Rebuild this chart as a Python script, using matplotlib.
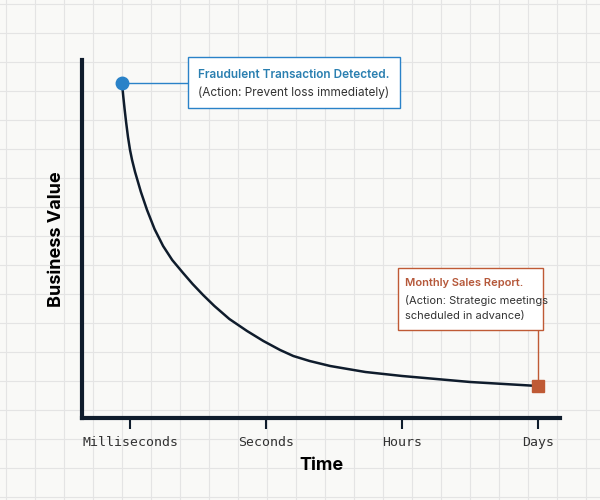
import matplotlib
matplotlib.use("Agg")
import matplotlib.pyplot as plt
from matplotlib.lines import Line2D
from matplotlib.patches import Rectangle

tick_pos = [0, 1, 2, 3]
tick_labels = ["Milliseconds", "Seconds", "Hours", "Days"]
curve_x = [-0.059, -0.05, -0.04, -0.029, -0.015, 0.0, 0.015, 0.037, 0.08, 0.125, 0.18, 0.243, 0.31, 0.39, 0.46, 0.537,
           0.62, 0.73, 0.86, 0.98, 1.103, 1.2, 1.32, 1.471, 1.6, 1.73, 2.0, 2.25, 2.5, 2.75, 3.0]
curve_y = [335, 322, 309, 296, 281, 268, 258, 246, 226, 208, 189, 172, 158, 145, 134, 123,
           112, 99, 87, 77, 68, 62, 57, 52, 49, 46, 42, 39, 36, 34, 32]

fig = plt.figure(figsize=(6, 5), dpi=100, facecolor="#f9f9f7")
for px in range(6, 601, 29):
    fig.add_artist(Line2D([px/600, px/600], [0, 1], color="#e4e4e4", lw=0.8, zorder=0))
for py in range(4, 501, 29):
    fig.add_artist(Line2D([0, 1], [1-py/500, 1-py/500], color="#e4e4e4", lw=0.8, zorder=0))

ax = fig.add_axes([82/600, 1-418/500, 478/600, 358/500])
ax.patch.set_alpha(0)
ax.set_xlim(-0.353, 3.16)
ax.set_ylim(0, 358)
for s in ["top", "right"]:
    ax.spines[s].set_visible(False)
for s in ["left", "bottom"]:
    ax.spines[s].set_linewidth(3)
    ax.spines[s].set_color("#0f1c2c")
ax.set_yticks([])
ax.set_xticks(tick_pos)
ax.set_xticklabels(tick_labels, family="DejaVu Sans Mono", fontsize=9.5, color="#333")
ax.tick_params(axis="x", length=8, width=1.5, pad=5, color="#0f1c2c")
ax.set_xlabel("Time", fontsize=13, fontweight="bold", labelpad=6, family="Inter")
ax.set_ylabel("Business Value", fontsize=13, fontweight="bold", labelpad=12, family="Inter")

ax.plot(curve_x, curve_y, color="#0f1c2c", lw=1.8, zorder=3, solid_capstyle="round", solid_joinstyle="round")
ax.plot(curve_x[0], curve_y[0], "o", color="#2a82c8", ms=9, zorder=4)
ax.plot(curve_x[-1], curve_y[-1], "s", color="#bf5a35", ms=9, zorder=4)

ax.plot([curve_x[0], (188-130)/136], [curve_y[0], curve_y[0]], color="#2a82c8", lw=1, zorder=2)
ax.plot([curve_x[-1], curve_x[-1]], [curve_y[-1], 418-330], color="#bf5a35", lw=1, zorder=2)

def box(x0, y0, x1, y1, ec):
    fig.add_artist(Rectangle((x0/600, 1-y1/500), (x1-x0)/600, (y1-y0)/500,
                             fc="white", ec=ec, lw=1, zorder=5))
F = "Inter"
box(188, 57, 400, 108, "#2a82c8")
fig.text(198/600, 1-75/500, "Fraudulent Transaction Detected.", color="#2a7fb0",
         fontsize=8.5, fontweight="semibold", va="center", zorder=6, family=F)
fig.text(198/600, 1-93/500, "(Action: Prevent loss immediately)", color="#333",
         fontsize=8.5, va="center", zorder=6, family=F)
box(398, 268, 543, 330, "#bf5a35")
fig.text(405/600, 1-283/500, "Monthly Sales Report.", color="#b5583a",
         fontsize=8, fontweight="semibold", va="center", zorder=6, family=F)
fig.text(405/600, 1-300/500, "(Action: Strategic meetings", color="#333",
         fontsize=8, va="center", zorder=6, family=F)
fig.text(405/600, 1-316/500, "scheduled in advance)", color="#333",
         fontsize=8, va="center", zorder=6, family=F)

fig.savefig("out.png", dpi=100, facecolor=fig.get_facecolor())
